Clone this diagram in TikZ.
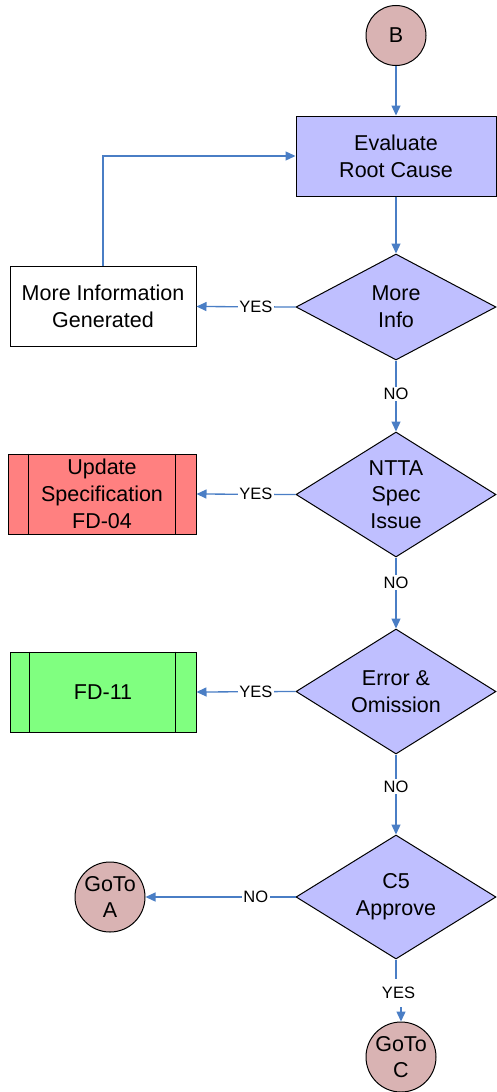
\documentclass[tikz,border=0pt]{standalone}
\usepackage{fontspec}
\setmainfont{Liberation Sans}
\usetikzlibrary{arrows.meta,shapes.geometric,calc}
\definecolor{lav}{HTML}{BFBFFF}
\definecolor{pinkc}{HTML}{D9B3B3}
\definecolor{redbox}{HTML}{FF8080}
\definecolor{greenbox}{HTML}{80FF80}
\definecolor{linkblue}{HTML}{4A7EC5}
\tikzset{
  maintext/.style={font=\fontsize{21.5}{26.7}\selectfont, align=center},
  procbox/.style={draw=black, line width=1pt, fill=lav, minimum width=200pt, minimum height=80pt, inner sep=0pt, maintext},
  subbox/.style={draw=black, line width=1pt, minimum height=80pt, inner sep=0pt, maintext},
  dia/.style={diamond, draw=black, line width=1pt, fill=lav, inner sep=0pt, minimum width=200pt},
  conn/.style={circle, draw=black, line width=1pt, fill=pinkc, inner sep=0pt, maintext},
  arr/.style={draw=linkblue, line width=1.3pt, -{Triangle[length=10pt,width=9pt]}},
  flowline/.style={draw=linkblue, line width=1.3pt},
  lab/.style={font=\fontsize{16.5}{18}\selectfont, fill=white, inner sep=1.5pt, text=black}
}
\begin{document}
\begin{tikzpicture}[x=1pt,y=-1pt]
\useasboundingbox (0,0) rectangle (497,1092);

% nodes
\node[conn, minimum size=60pt] (b) at (396,35.5) {B};
\node[procbox] (eval) at (396,156) {Evaluate\\Root Cause};
\node[dia, minimum height=106pt] (d1) at (396,307) {};
\node[maintext] (t1) at (d1) {More\\Info};
\node[subbox, minimum width=186pt, fill=white] (mig) at (103,306.5) {More Information\\Generated};

\node[dia, minimum height=125pt] (d2) at (396,494.5) {};
\node[maintext] (t2) at (d2) {NTTA\\Spec\\Issue};
\node[subbox, minimum width=188pt, fill=redbox] (upd) at (102,494) {Update\\Specification\\FD-04};

\node[dia, minimum height=125pt] (d3) at (396,691.5) {};
\node[maintext] (t3) at (d3) {Error \&\\Omission};
\node[subbox, minimum width=186pt, fill=greenbox] (fd) at (103,692) {FD-11};

\node[dia, minimum height=124pt] (d4) at (396,897) {};
\node[maintext] (t4) at (d4) {C5\\Approve};
\node[conn, minimum size=70pt] (ga) at (110,897) {GoTo\\A};
\node[conn, minimum size=70pt] (gc) at (401,1057) {GoTo\\C};

% subroutine side bars
\draw[line width=1pt] ($(upd.north west)+(21,0)$) -- ($(upd.south west)+(21,0)$);
\draw[line width=1pt] ($(upd.north east)+(-21,0)$) -- ($(upd.south east)+(-21,0)$);
\draw[line width=1pt] ($(fd.north west)+(20,0)$) -- ($(fd.south west)+(20,0)$);
\draw[line width=1pt] ($(fd.north east)+(-21,0)$) -- ($(fd.south east)+(-21,0)$);

% connectors
\draw[arr] (b) -- (eval);
\draw[arr] (eval) -- (d1.north);
\draw[arr] (mig.north) |- (eval.west);
\draw[arr] (d1.west) -- node[lab, pos=0.4] {YES} (mig.east);
\draw[arr] (d1.south) -- node[lab, pos=0.47] {NO} (d2.north);
\draw[arr] (d2.west) -- node[lab, pos=0.4] {YES} (upd.east);
\draw[arr] (d2.south) -- node[lab, pos=0.35] {NO} (d3.north);
\draw[arr] (d3.west) -- node[lab, pos=0.4] {YES} (fd.east);
\draw[arr] (d3.south) -- node[lab, pos=0.4] {NO} (d4.north);
\draw[arr] (d4.west) -- node[lab, pos=0.265] {NO} (ga.east);

\coordinate (jog) at (398.5,990);
\draw[arr] (d4.south) -- (d4.south |- jog) -- (gc.north |- jog) -- (gc.north);
\node[lab, inner ysep=8pt] (ylab) at (398.5,993) {YES};
\end{tikzpicture}
\end{document}
